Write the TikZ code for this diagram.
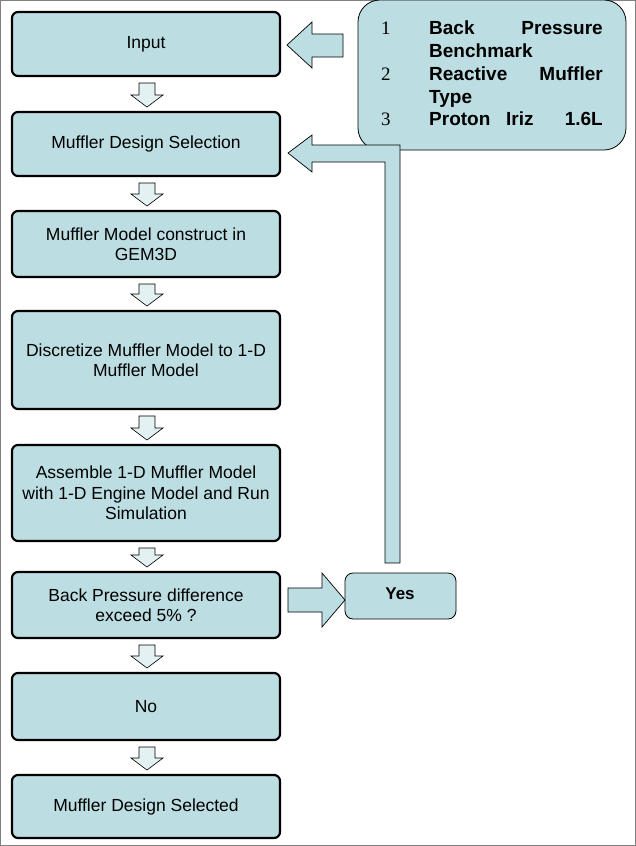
\documentclass[tikz,border=0pt]{standalone}
\usepackage{fontspec}
\setmainfont{Liberation Sans}
\newfontfamily\numfont{Liberation Serif}
\begin{document}
\begin{tikzpicture}[x=1pt,y=-1pt,
 box/.style={draw=black,line width=2.2pt,rounded corners=6pt,fill=boxc},
 tbox/.style={draw=black,line width=0.8pt,rounded corners=8pt,fill=boxc},
 dn/.style={draw=black,line width=0.6pt,fill=arrc},
 bg/.style={draw=black,line width=0.7pt,fill=boxc},
 lbl/.style={align=center,font=\fontsize{17.5}{20.5}\selectfont},
 rt/.style={font=\bfseries\fontsize{19}{22}\selectfont,anchor=base west,inner sep=0},
 rr/.style={font=\bfseries\fontsize{19}{22}\selectfont,anchor=base east,inner sep=0},
 rn/.style={font=\numfont\fontsize{19}{22}\selectfont,anchor=base west,inner sep=0}]
\definecolor{boxc}{HTML}{BCDEE2}
\definecolor{arrc}{HTML}{E4F1F3}
\useasboundingbox (0,0) rectangle (636,846);
\draw[gray,line width=1pt] (0.5,0.5) rectangle (635.5,845.5);
% main boxes
\foreach \n/\a/\b/\t in {in/12/76/Input, sel/112/176/Muffler Design Selection,
 con/211/277/{Muffler Model construct in\\GEM3D}, dis/311/409/{Discretize Muffler Model to 1-D\\Muffler Model},
 ass/445/541/{Assemble 1-D Muffler Model\\with 1-D Engine Model and Run\\Simulation},
 bp/572/638/{Back Pressure difference\\exceed 5\% ?}, no/673/740/No, fin/775/838/Muffler Design Selected}{
 \draw[box] (12,\a) rectangle (280,\b);
 \node[lbl] (\n) at (146,{(\a+\b)/2}) {\t};
}
% down arrows
\foreach \a/\b in {76/112,176/211,277/311,409/445,541/572,638/673,740/775}{
 \draw[dn] (139,{\a+7}) -- (155,{\a+7}) -- (155,{\b-17}) -- (163,{\b-17}) -- (147,{\b-5}) -- (131,{\b-17}) -- (139,{\b-17}) -- cycle;
}
% right info box
\draw[tbox,rounded corners=22pt] (358,0) rectangle (626,150);
\begin{scope}
\clip (358,0) rectangle (626,143);
\node[rn] at (381,34) {1};
\node[rt] at (429,34) {Back}; \node[rr] at (603,34) {Pressure};
\node[rt] at (429,57) {Benchmark};
\node[rn] at (381,80) {2};
\node[rt] at (429,80) {Reactive}; \node[rr] at (603,80) {Muffler};
\node[rt] at (429,103) {Type};
\node[rn] at (381,125) {3};
\node[rt] at (429,125) {Proton}; \node[rt] at (506,125) {Iriz}; \node[rr] at (603,125) {1.6L};
\node[rt] at (429,158) {Engine};
\end{scope}
% arrow to input
\draw[bg] (343,34) -- (312,34) -- (312,22) -- (287,45) -- (312,68) -- (312,57) -- (343,57) -- cycle;
% feedback arrow
\draw[bg] (400,563) -- (400,145) -- (312,145) -- (312,135) -- (288,153) -- (312,172) -- (312,162) -- (385,162) -- (385,563) -- cycle;
% yes
\draw[tbox] (345,573) rectangle (456,619);
\node[font=\bfseries\fontsize{17}{20}\selectfont] (yes) at (400,594) {Yes};
\draw[bg] (288,588) -- (322,588) -- (322,573) -- (345,600) -- (322,627) -- (322,612) -- (288,612) -- cycle;
\end{tikzpicture}
\end{document}
